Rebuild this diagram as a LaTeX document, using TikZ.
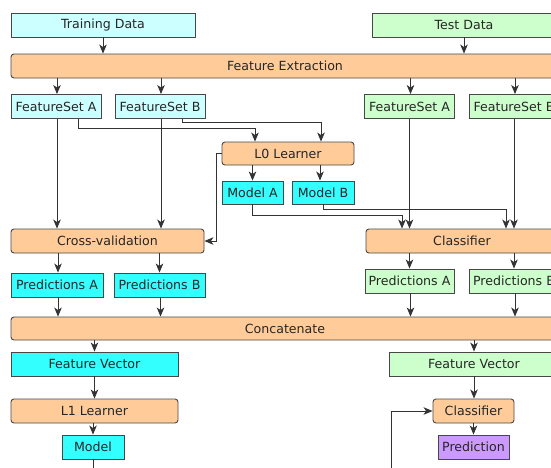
\documentclass[tikz,border=0pt]{standalone}
\usepackage{fontspec}
\setmainfont{DejaVu Sans}
\usetikzlibrary{arrows.meta,calc}
\definecolor{trainc}{HTML}{CCFFFF}
\definecolor{testc}{HTML}{CCFFCC}
\definecolor{procc}{HTML}{FFCC99}
\definecolor{modelc}{HTML}{33FFFF}
\definecolor{predc}{HTML}{CC99FF}
\definecolor{edgec}{HTML}{333333}
\tikzset{
  base/.style={draw=edgec!90, line width=0.9pt, inner sep=0pt, minimum height=24pt,
    font=\fontsize{12.6}{15}\selectfont, text=black!85},
  trainbox/.style={base, fill=trainc},
  testbox/.style={base, fill=testc},
  procbox/.style={base, fill=procc, rounded corners=3pt},
  modelbox/.style={base, fill=modelc},
  predbox/.style={base, fill=predc},
  arr/.style={draw=edgec, line width=0.9pt, -{Stealth[length=9pt,width=7.5pt,inset=2.5pt]}},
}
\begin{document}
\begin{tikzpicture}[x=1pt,y=-1pt]
\clip (0,0) rectangle (551,467);
\fill[white] (0,0) rectangle (551,467);
% nodes
\node[trainbox, minimum width=184pt] (train) at (103,25) {Training Data};
\node[testbox, minimum width=184pt] (test) at (464,25) {Test Data};
\node[procbox, minimum width=548pt] (fe) at (285,66) {Feature Extraction};
\node[trainbox, minimum width=90pt] (fsA) at (56,106.5) {FeatureSet A};
\node[trainbox, minimum width=90pt] (fsB) at (160,106.5) {FeatureSet B};
\node[testbox, minimum width=90pt] (tfsA) at (409.5,106.5) {FeatureSet A};
\node[testbox, minimum width=90pt] (tfsB) at (514,106.5) {FeatureSet B};
\node[procbox, minimum width=132pt, minimum height=23pt] (L0) at (288,153.5) {L0 Learner};
\node[modelbox, minimum width=61pt, minimum height=23pt] (mA) at (252.5,192.5) {Model A};
\node[modelbox, minimum width=62pt, minimum height=23pt] (mB) at (323,192.5) {Model B};
\node[procbox, minimum width=193pt] (cv) at (107.5,241) {Cross-validation};
\node[procbox, minimum width=192pt] (clf) at (462,241) {Classifier};
\node[modelbox, minimum width=92pt] (pA) at (57,285) {Predictions A};
\node[modelbox, minimum width=91pt] (pB) at (159.5,285) {Predictions B};
\node[testbox, minimum width=89pt] (tpA) at (409.5,281) {Predictions A};
\node[testbox, minimum width=90pt] (tpB) at (514,281) {Predictions B};
\node[procbox, minimum width=548pt, minimum height=23pt] (cat) at (285,328.5) {Concatenate};
\node[modelbox, minimum width=167pt] (fv) at (94.5,364) {Feature Vector};
\node[testbox, minimum width=170pt] (tfv) at (474,364) {Feature Vector};
\node[procbox, minimum width=167pt] (L1) at (94.5,411) {L1 Learner};
\node[modelbox, minimum width=62pt] (model) at (93,447) {Model};
\node[procbox, minimum width=81pt] (tclf) at (473.5,411) {Classifier};
\node[predbox, minimum width=71pt] (pred) at (473.5,447) {Prediction};
\coordinate (loop) at (391,500);
% edges
\draw[arr] (train.south) -- (train.south |- fe.north);
\draw[arr] (test.south) -- (test.south |- fe.north);
\foreach \n in {fsA,fsB,tfsA,tfsB}{
  \draw[arr] ([xshift=1pt]\n.north |- fe.south) -- ([xshift=1pt]\n.north);
}
\draw[arr] ([xshift=22pt]fsA.south) -- ++(0,9) -| ([xshift=-33pt]L0.north);
\draw[arr] ([xshift=22pt]fsB.south) -- ++(0,3) -| ([xshift=33pt]L0.north);
\draw[arr] ([xshift=1pt]fsA.south) -- ([xshift=1pt]fsA.south |- cv.north);
\draw[arr] ([xshift=1pt]fsB.south) -- ([xshift=1pt]fsB.south |- cv.north);
\draw[arr] (mA.north |- L0.south) -- (mA.north);
\draw[arr] ([xshift=-3pt]mB.north |- L0.south) -- ([xshift=-3pt]mB.north);
\draw[arr] (L0.west) -- ++(-5,0) |- (cv.east);
\draw[arr] (mA.south) -- ++(0,10.5) -| ([xshift=-60pt]clf.north);
\draw[arr] (tfsA.south) -- (tfsA.south |- clf.north);
\draw[arr] (mB.south) -- ++(0,4.5) -| ([xshift=44pt]clf.north);
\draw[arr] (tfsB.south) -- (tfsB.south |- clf.north);
\draw[arr] ([xshift=1pt]pA.north |- cv.south) -- ([xshift=1pt]pA.north);
\draw[arr] (pB.north |- cv.south) -- (pB.north);
\draw[arr] (tpA.north |- clf.south) -- (tpA.north);
\draw[arr] (tpB.north |- clf.south) -- (tpB.north);
\foreach \n in {pA,pB,tpA,tpB}{
  \draw[arr] ([xshift=1pt]\n.south) -- ([xshift=1pt]\n.south |- cat.north);
}
\draw[arr] (fv.north |- cat.south) -- (fv.north);
\draw[arr] (tfv.north |- cat.south) -- (tfv.north);
\draw[arr] (fv.south) -- (L1.north);
\draw[arr] (model.north |- L1.south) -- (model.north);
\draw[arr] (tfv.south) -- (tfv.south |- tclf.north);
\draw[arr] (tclf.south) -- (pred.north);
\draw[arr] (model.south) |- (loop) |- (tclf.west);
\end{tikzpicture}
\end{document}
